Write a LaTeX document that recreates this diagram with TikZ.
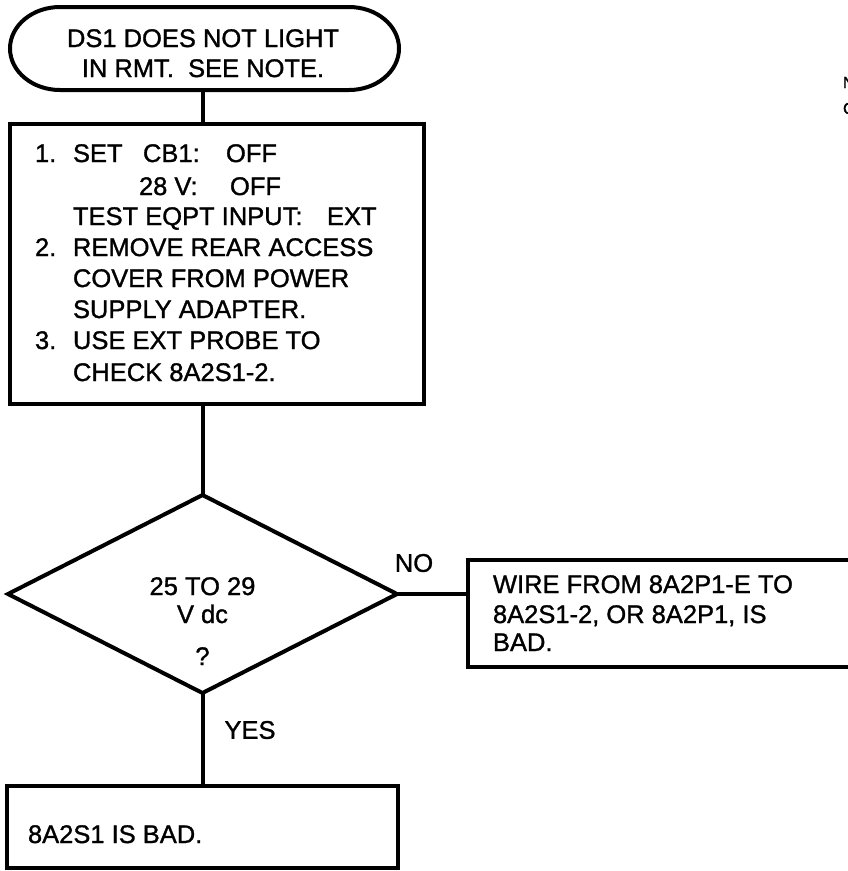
\documentclass[tikz,border=0pt]{standalone}
\usepackage{fontspec}
\setmainfont{Liberation Sans}[FakeBold=1.2]
\usetikzlibrary{shapes.geometric}
\begin{document}
\begin{tikzpicture}[x=1pt,y=-1pt,
  every node/.style={inner sep=0pt, outer sep=0pt},
  flow/.style={line width=4pt, line join=miter},
  frame/.style={draw, rectangle, line width=4pt},
  decision/.style={draw, diamond, line width=4pt},
  txt/.style={font=\fontsize{25.5}{30}\selectfont},
  line/.style={txt, anchor=base west},
  cline/.style={txt, anchor=base},
  small/.style={font=\fontsize{16}{19}\selectfont, anchor=base west}]
\useasboundingbox (0,0) rectangle (848,871);

% start terminal: flat top and bottom with elliptical ends
\draw[flow] (60,7) -- (349,7)
  .. controls (376.6,7) and (399,25.6) .. (399,48.5)
  .. controls (399,71.4) and (376.6,90) .. (349,90)
  -- (60,90)
  .. controls (32.4,90) and (10,71.4) .. (10,48.5)
  .. controls (10,25.6) and (32.4,7) .. (60,7) -- cycle;
\node[minimum width=389pt, minimum height=83pt] (start) at (203,48.5) {};
\node[cline] (s1) at (203,47) {DS1 DOES NOT LIGHT};
\node[cline] (s2) at (203,77) {IN RMT.\ \ SEE NOTE.};

% setup steps
\node[frame, minimum width=414pt, minimum height=280pt] (setup) at (217,264) {};
\node[line] (n1) at (35,162) {1.};
\node[line] (a1) at (73,162) {SET};
\node[line] (a2) at (143,162) {CB1:};
\node[line] (a3) at (226,162) {OFF};
\node[line] (b1) at (139,195) {28 V:};
\node[line] (b2) at (230,195) {OFF};
\node[line] (c1) at (73,225) {TEST EQPT INPUT:};
\node[line] (c2) at (327,225) {EXT};
\node[line] (n2) at (35,256) {2.};
\node[line] (d1) at (73,256) {REMOVE REAR ACCESS};
\node[line] (e1) at (73,287) {COVER FROM POWER};
\node[line] (f1) at (73,318) {SUPPLY ADAPTER.};
\node[line] (n3) at (35,349) {3.};
\node[line] (g1) at (73,349) {USE EXT PROBE TO};
\node[line] (h1) at (73,381) {CHECK 8A2S1-2.};

% decision
\node[decision, minimum width=389pt, minimum height=198pt] (check) at (202.5,594) {};
\node[cline] (q1) at (202.5,595) {25 TO 29};
\node[cline] (q2) at (202.5,623) {V dc};
\node[cline] (q3) at (202.5,665) {?};

% outcomes
\node[frame, minimum width=402pt, minimum height=107pt] (fault) at (669,613.5) {};
\node[line] (w1) at (493,593) {WIRE FROM 8A2P1-E TO};
\node[line] (w2) at (493,623) {8A2S1-2, OR 8A2P1, IS};
\node[line] (w3) at (493,651) {BAD.};

\node[frame, minimum width=391pt, minimum height=82pt] (bad) at (202.5,827) {};
\node[line] (x1) at (28,843) {8A2S1 IS BAD.};

% branch labels
\node[txt] (no) at (414,563) {NO};
\node[txt] (yes) at (250,730) {YES};

% note at the right edge
\node[small] (na) at (843,88) {N};
\node[small] (nb) at (843,114) {C};

% connectors
\draw[flow] (start.south) -- (start.south |- setup.north);
\draw[flow] (check.north |- setup.south) -- (check.north);
\draw[flow] (check.east) -- (fault.west |- check.east);
\draw[flow] (check.south) -- (bad.north);
\end{tikzpicture}
\end{document}
